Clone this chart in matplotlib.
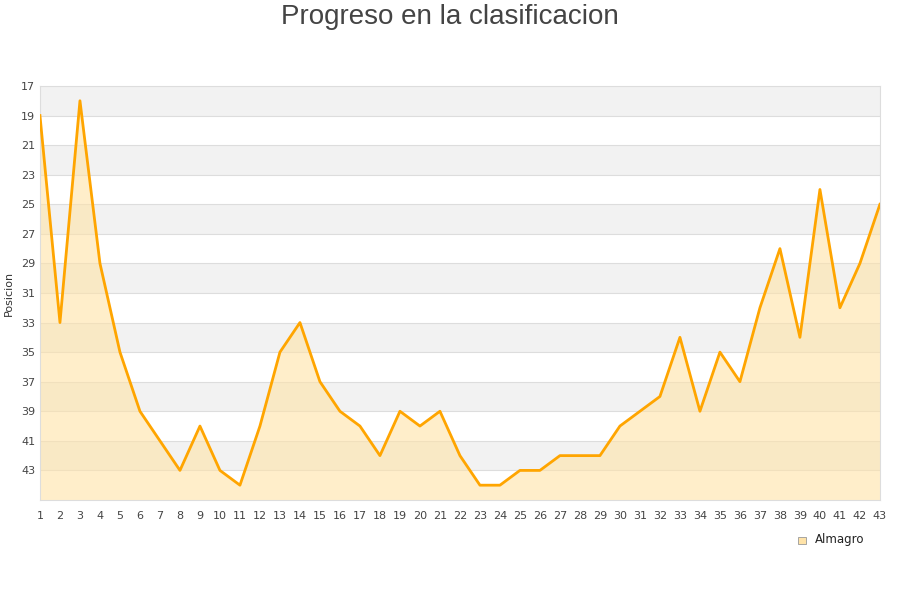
import matplotlib.pyplot as plt
import numpy as np

jornadas = list(range(1, 44))
posiciones = [19, 33, 18, 29, 35, 39, 41, 43, 40, 43,
              44, 40, 35, 33, 37, 39, 40, 42, 39, 40,
              39, 42, 44, 44, 43, 43, 42, 42, 42, 40,
              39, 38, 34, 39, 35, 37, 32, 28, 34, 24,
              32, 29, 25]
y_ticks = list(range(17, 45, 2))
equipo = 'Almagro'
titulo = 'Progreso en la clasificacion'

fig = plt.figure(figsize=(9, 6), dpi=100)
ax = fig.add_axes([0.0444, 0.1667, 0.9333, 0.69])

# alternating bands
for i, lo in enumerate(range(17, 45, 2)):
    if i % 2 == 0:
        ax.axhspan(lo, lo + 2, color='#f2f2f2', zorder=0, lw=0)
for t in y_ticks[1:]:
    ax.axhline(t, color='#dddddd', lw=0.8, zorder=1)

ax.fill_between(jornadas, posiciones, 45, color='#ffe3a8', alpha=0.6, lw=0, zorder=2)
ax.plot(jornadas, posiciones, color='#ffa500', lw=2.0, zorder=3)

ax.set_xlim(1, 43)
ax.set_ylim(45, 17)
ax.set_xticks(jornadas)
ax.set_yticks(y_ticks)
ax.tick_params(axis='both', length=0, labelsize=8, colors='#444444')
ax.tick_params(axis='x', pad=8)
for s in ax.spines.values():
    s.set_color('#dddddd')
ax.set_ylabel('Posicion', fontsize=8, color='#333333', labelpad=5)

fig.text(0.5, 0.993, titulo, ha='center', va='top', fontsize=20,
         color='#444444', family='Liberation Sans')

# legend
fig.patches.append(plt.Rectangle((0.887, 0.093), 0.008, 0.012, transform=fig.transFigure,
                                 facecolor='#ffe3a8', edgecolor='#999999', lw=0.6))
fig.text(0.906, 0.1, equipo, fontsize=8.5, va='center', color='#222222')

fig.savefig('out.png', dpi=100)
